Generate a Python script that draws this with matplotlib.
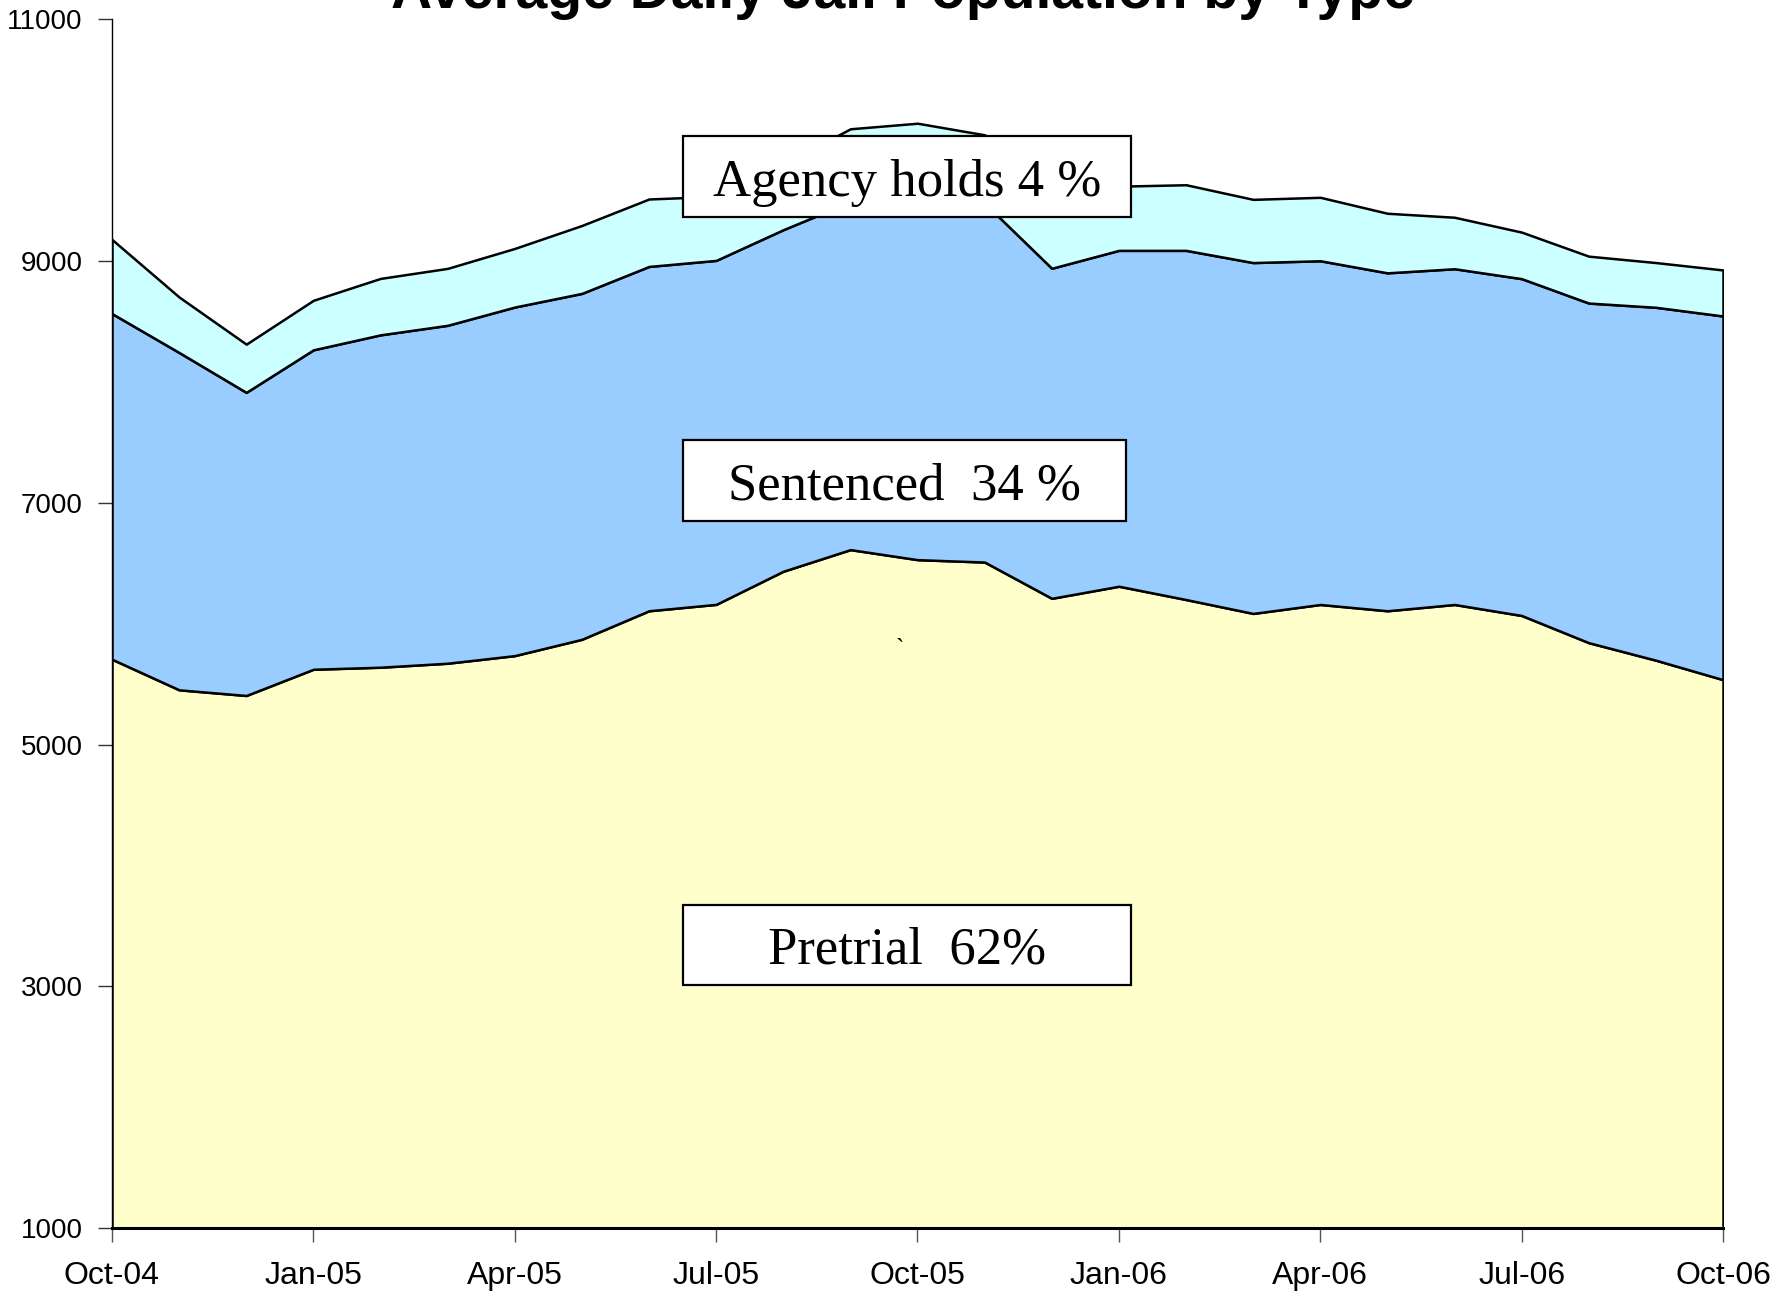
import numpy as np
import matplotlib
matplotlib.use("Agg")
import matplotlib.pyplot as plt
from matplotlib.patches import Rectangle

# monthly average daily population, Oct-04 .. Oct-06
months = np.arange(25)
pretrial = [5706, 5453, 5406, 5623, 5640, 5673, 5736, 5871, 6107, 6160, 6434, 6613, 6530,
            6510, 6210, 6310, 6200, 6085, 6159, 6107, 6159, 6068, 5843, 5698, 5537]
sentenced = [2860, 2791, 2508, 2643, 2750, 2796, 2884, 2862, 2849, 2846, 2826, 2877, 3000,
             2970, 2731, 2779, 2889, 2903, 2844, 2796, 2778, 2787, 2810, 2920, 3009]
agency = [613, 459, 399, 410, 467, 471, 485, 562, 558, 530, 540, 605, 611,
          565, 649, 531, 543, 523, 525, 493, 426, 385, 388, 370, 381]

tick_pos = [0, 3, 6, 9, 12, 15, 18, 21, 24]
tick_labels = ["Oct-04", "Jan-05", "Apr-05", "Jul-05", "Oct-05", "Jan-06", "Apr-06", "Jul-06", "Oct-06"]
y_ticks = [1000, 3000, 5000, 7000, 9000, 11000]

# label boxes: (text, x0, y0, x1, y1) in axes fraction
boxes = [
    ("Agency holds 4 %", 0.3544, 0.8365, 0.6325, 0.9035),
    ("Sentenced  34 %", 0.3544, 0.585, 0.6294, 0.652),
    ("Pretrial  62%", 0.3544, 0.2011, 0.6325, 0.2673),
]

fig = plt.figure(figsize=(17.91, 13), dpi=100)
ax = fig.add_axes([0.06253, 0.05538, 0.8995, 0.9297])

ax.stackplot(months, pretrial, sentenced, agency,
             colors=["#FFFFCC", "#99CCFF", "#CCFFFF"],
             edgecolor="black", linewidth=1.8)

ax.set_xlim(0, 24)
ax.set_ylim(1000, 11000)
ax.set_xticks(tick_pos)
ax.set_xticklabels(tick_labels, fontsize=23, family="Liberation Sans")
ax.set_yticks(y_ticks)
ax.set_yticklabels([str(v) for v in y_ticks], fontsize=20, family="Liberation Sans")
ax.tick_params(axis="x", length=10, width=1, color="#555555", pad=14)
ax.tick_params(axis="y", length=10, width=1, color="#333333", pad=11)

ax.spines["top"].set_visible(False)
ax.spines["right"].set_visible(False)
ax.spines["left"].set_linewidth(1)
ax.spines["bottom"].set_linewidth(2.2)

for txt, x0, y0, x1, y1 in boxes:
    ax.add_patch(Rectangle((x0, y0), x1 - x0, y1 - y0, transform=ax.transAxes,
                           facecolor="white", edgecolor="black", linewidth=1.6, zorder=5))
    ax.text((x0 + x1) / 2, (y0 + y1) / 2 - 0.005, txt, transform=ax.transAxes,
            ha="center", va="center", fontsize=38, family="Liberation Serif", zorder=6)

# stray mark in the original
ax.text(0.489, 0.478, "`", transform=ax.transAxes, ha="center", va="center",
        fontsize=18, family="Liberation Serif")

fig.text(0.504, 0.9935, "Average Daily Jail Population by Type", ha="center", va="baseline",
         fontsize=41, fontweight="bold", family="Liberation Sans")

fig.savefig("out.png", dpi=100)
